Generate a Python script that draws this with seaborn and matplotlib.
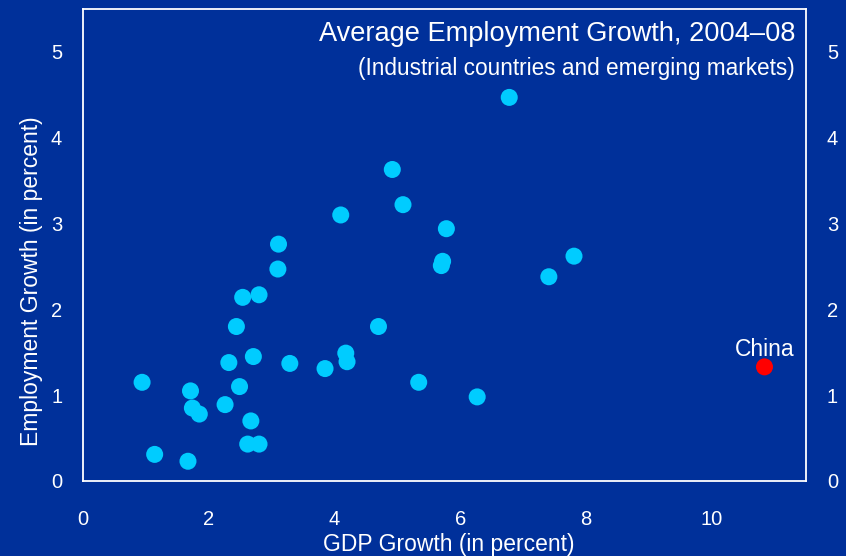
import matplotlib
matplotlib.use("Agg")
import matplotlib.pyplot as plt
import seaborn as sns
import pandas as pd

# GDP growth vs. employment growth, 2004-08 averages (percent)
gdp_growth = [0.94, 1.14, 1.67, 1.71, 1.74, 1.85, 2.26, 2.32, 2.49, 2.44,
              2.54, 2.80, 2.67, 2.62, 2.80, 2.71, 3.11, 3.10, 3.29, 3.85,
              4.10, 4.18, 4.20, 4.70, 6.78, 4.92, 5.09, 5.78, 5.72, 5.70,
              7.81, 7.41, 6.27, 5.34]
emp_growth = [1.15, 0.31, 0.23, 1.05, 0.85, 0.78, 0.89, 1.38, 1.10, 1.80,
              2.14, 2.17, 0.70, 0.43, 0.43, 1.45, 2.76, 2.47, 1.37, 1.31,
              3.10, 1.49, 1.39, 1.80, 4.47, 3.63, 3.22, 2.94, 2.56, 2.51,
              2.62, 2.38, 0.98, 1.15]
china_gdp = [10.84]
china_emp = [1.33]
china_label = "China"

x_ticks = [0, 2, 4, 6, 8, 10]
y_ticks = [0, 1, 2, 3, 4, 5]

title = "Average Employment Growth, 2004\u201308"
subtitle = "(Industrial countries and emerging markets)"
x_label = "GDP Growth (in percent)"
y_label = "Employment Growth (in percent)"

BG = "#00309A"
CYAN = "#00CCFF"
RED = "#FF0000"
WHITE = "white"

df = pd.DataFrame({
    "gdp": gdp_growth + china_gdp,
    "emp": emp_growth + china_emp,
    "group": ["Other"] * len(gdp_growth) + ["China"] * len(china_gdp),
})

sns.set_theme(style="white")
plt.rcParams["font.family"] = ["Liberation Sans", "DejaVu Sans"]

fig = plt.figure(figsize=(8.46, 5.56), dpi=100, facecolor=BG)
ax = fig.add_axes([0.0981, 0.1349, 0.8546, 0.8489])
ax.set_facecolor(BG)

sns.scatterplot(data=df, x="gdp", y="emp", hue="group",
                palette={"Other": CYAN, "China": RED},
                s=150, linewidth=0, legend=False, ax=ax, zorder=3)

ax.set_xlim(0, 11.5)
ax.set_ylim(0, 5.5)
ax.set_xticks(x_ticks)
ax.set_yticks(y_ticks)
ax.tick_params(axis="x", length=0, pad=21, labelsize=14.5, colors=WHITE)
ax.tick_params(axis="y", length=0, pad=15, labelsize=14.5, colors=WHITE,
               right=True, labelright=True)

for sp in ax.spines.values():
    sp.set_color(WHITE)
    sp.set_linewidth(1.3)

ax.set_xlabel(x_label, color=WHITE, fontsize=16.5)
ax.set_ylabel(y_label, color=WHITE, fontsize=16.5)
ax.xaxis.set_label_coords(0.506, -0.110)
ax.yaxis.set_label_coords(-0.055, 0.424)

ax.text(0.985, 0.975, title, transform=ax.transAxes, ha="right", va="top",
        color=WHITE, fontsize=19.6)
ax.text(0.985, 0.898, subtitle, transform=ax.transAxes, ha="right", va="top",
        color=WHITE, fontsize=16.3)

ax.annotate(china_label, (china_gdp[0], china_emp[0]), xytext=(0, 4),
            textcoords="offset points", ha="center", va="bottom",
            color=WHITE, fontsize=16.5)

fig.savefig("out.png", dpi=100, facecolor=BG)
